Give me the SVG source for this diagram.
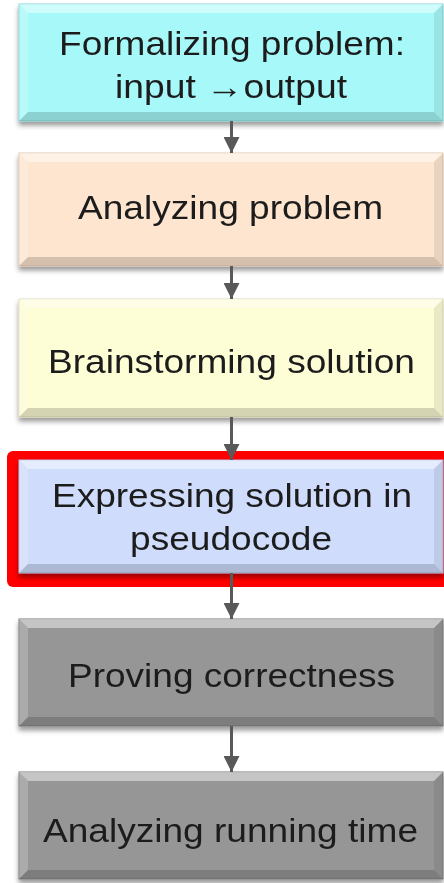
<svg xmlns="http://www.w3.org/2000/svg" width="444" height="883" viewBox="0 0 444 883">
  <defs>
    <filter id="shadow" x="-5%" y="-10%" width="110%" height="125%">
      <feGaussianBlur in="SourceAlpha" stdDeviation="2.5"/>
      <feOffset dx="0" dy="4" result="b"/>
      <feComponentTransfer><feFuncA type="linear" slope="0.4"/></feComponentTransfer>
      <feMerge><feMergeNode/><feMergeNode in="SourceGraphic"/></feMerge>
    </filter>
    <marker id="head" viewBox="0 0 16 16" markerWidth="16" markerHeight="16" refX="16" refY="8" orient="auto" markerUnits="userSpaceOnUse">
      <path d="M0,0 L16,8 L0,16 Z" fill="#595959"/>
    </marker>
  </defs>
  <style>
    .box { stroke-width: 1; }
    .hl { fill: #ffffff; opacity: 0.45; }
    .hl2 { fill: #ffffff; opacity: 0.2; }
    .sh { fill: #000000; opacity: 0.08; }
    .sh2 { fill: #000000; opacity: 0.16; }
    .label { font-family: "Liberation Sans", Arial, "DejaVu Sans", sans-serif; font-size: 33px; fill: #1c1c1c; text-anchor: middle; }
    .conn { stroke: #595959; stroke-width: 3; fill: none; }
  </style>

  <rect width="444" height="883" fill="#ffffff"/>

  <!-- highlight frame around the pseudocode step -->
  <rect id="highlight" x="7" y="451" width="450" height="136" rx="6" fill="#ff0000"/>

  <g id="n1" filter="url(#shadow)">
    <rect class="box" x="19" y="4" width="424" height="117" fill="#a7f9f9" stroke="#86d6d6"/>
    <polygon class="hl" points="19,4 443,4 434,13 28,13"/>
    <polygon class="hl2" points="19,4 28,13 28,112 19,121"/>
    <polygon class="sh" points="443,4 443,121 434,112 434,13"/>
    <polygon class="sh2" points="19,121 28,112 434,112 443,121"/>
    <text class="label" transform="matrix(1.1 0 0 1 232 0)" y="55" textLength="314.5" lengthAdjust="spacingAndGlyphs">Formalizing problem:</text>
    <text class="label" transform="matrix(1.1 0 0 1 231 0)" y="98" textLength="210.9" lengthAdjust="spacingAndGlyphs">input →output</text>
  </g>

  <g id="n2" filter="url(#shadow)">
    <rect class="box" x="19" y="153" width="424" height="113" fill="#fde5cf" stroke="#e2c8b1"/>
    <polygon class="hl" points="19,153 443,153 434,162 28,162"/>
    <polygon class="hl2" points="19,153 28,162 28,257 19,266"/>
    <polygon class="sh" points="443,153 443,266 434,257 434,162"/>
    <polygon class="sh2" points="19,266 28,257 434,257 443,266"/>
    <text class="label" transform="matrix(1.1 0 0 1 230.5 0)" y="219" textLength="277.3" lengthAdjust="spacingAndGlyphs">Analyzing problem</text>
  </g>

  <g id="n3" filter="url(#shadow)">
    <rect class="box" x="19" y="299" width="424" height="118" fill="#fdfdd6" stroke="#dedeb8"/>
    <polygon class="hl" points="19,299 443,299 434,308 28,308"/>
    <polygon class="hl2" points="19,299 28,308 28,408 19,417"/>
    <polygon class="sh" points="443,299 443,417 434,408 434,308"/>
    <polygon class="sh2" points="19,417 28,408 434,408 443,417"/>
    <text class="label" transform="matrix(1.1 0 0 1 231.5 0)" y="373" textLength="333.6" lengthAdjust="spacingAndGlyphs">Brainstorming solution</text>
  </g>

  <g id="n4" filter="url(#shadow)">
    <rect class="box" x="19" y="460" width="424" height="113" fill="#cfdcfb" stroke="#aebad8"/>
    <polygon class="hl" points="19,460 443,460 434,469 28,469"/>
    <polygon class="hl2" points="19,460 28,469 28,564 19,573"/>
    <polygon class="sh" points="443,460 443,573 434,564 434,469"/>
    <polygon class="sh2" points="19,573 28,564 434,564 443,573"/>
    <text class="label" transform="matrix(1.1 0 0 1 232 0)" y="507" textLength="327.3" lengthAdjust="spacingAndGlyphs">Expressing solution in</text>
    <text class="label" transform="matrix(1.1 0 0 1 231 0)" y="550" textLength="183.6" lengthAdjust="spacingAndGlyphs">pseudocode</text>
  </g>

  <g id="n5" filter="url(#shadow)">
    <rect class="box" x="19" y="619" width="424" height="107" fill="#969696" stroke="#7a7a7a"/>
    <polygon class="hl" points="19,619 443,619 434,628 28,628"/>
    <polygon class="hl2" points="19,619 28,628 28,717 19,726"/>
    <polygon class="sh" points="443,619 443,726 434,717 434,628"/>
    <polygon class="sh2" points="19,726 28,717 434,717 443,726"/>
    <text class="label" transform="matrix(1.1 0 0 1 231.5 0)" y="687" textLength="297.3" lengthAdjust="spacingAndGlyphs">Proving correctness</text>
  </g>

  <g id="n6" filter="url(#shadow)">
    <rect class="box" x="19" y="772" width="424" height="107" fill="#969696" stroke="#7a7a7a"/>
    <polygon class="hl" points="19,772 443,772 434,781 28,781"/>
    <polygon class="hl2" points="19,772 28,781 28,870 19,879"/>
    <polygon class="sh" points="443,772 443,879 434,870 434,781"/>
    <polygon class="sh2" points="19,879 28,870 434,870 443,879"/>
    <text class="label" transform="matrix(1.1 0 0 1 230.5 0)" y="842" textLength="340.9" lengthAdjust="spacingAndGlyphs">Analyzing running time</text>
  </g>

  <g id="connectors">
    <line class="conn" x1="231.5" y1="121" x2="231.5" y2="153" marker-end="url(#head)"/>
    <line class="conn" x1="231.5" y1="266" x2="231.5" y2="299" marker-end="url(#head)"/>
    <line class="conn" x1="231.5" y1="417" x2="231.5" y2="460" marker-end="url(#head)"/>
    <line class="conn" x1="231.5" y1="573" x2="231.5" y2="619" marker-end="url(#head)"/>
    <line class="conn" x1="231.5" y1="726" x2="231.5" y2="772" marker-end="url(#head)"/>
  </g>
</svg>
